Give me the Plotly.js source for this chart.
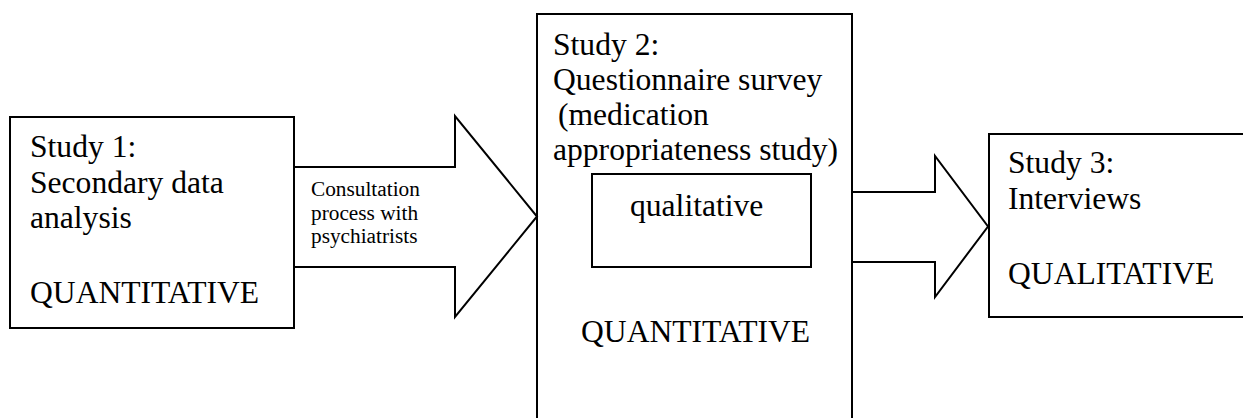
<!DOCTYPE html>
<html>
<head>
<meta charset="utf-8">
<script src="https://cdn.plot.ly/plotly-3.0.1.min.js"></script>
<style>
html,body{margin:0;padding:0;background:#fff;}
#chart{width:1243px;height:418px;}
</style>
</head>
<body>
<div id="chart"></div>
<script>
// ---- content (text) ----
const studyTitles = ["Study 1:", "Study 2:", "Study 3:"];
const studyDescriptions = [
  ["Secondary data", "analysis"],
  ["Questionnaire survey", "(medication", "appropriateness study)"],
  ["Interviews"]
];
const studyMethods = ["QUANTITATIVE", "QUANTITATIVE", "QUALITATIVE"];
const embeddedComponent = ["qualitative"];
const linkLabels = [["Consultation", "process with", "psychiatrists"], []];

// ---- layout geometry (diagram coordinates, in a 1243 x 418 frame) ----
const geo = {
  boxes: [
    {x0: 10, y0: 117, x1: 294, y1: 328},
    {x0: 537, y0: 14, x1: 852, y1: 440},
    {x0: 989, y0: 134, x1: 1260, y1: 317}
  ],
  inner: {x0: 592, y0: 174, x1: 811, y1: 267},
  arrows: [
    {xs: 294, xh: 455, xt: 537, sy0: 167, sy1: 267, hy0: 116, hy1: 317},
    {xs: 852, xh: 935, xt: 988, sy0: 192, sy1: 262, hy0: 156, hy1: 297}
  ],
  textX: [30, 553, 1008],
  titleY: [146.5, 44, 162],
  descY: [[182, 217.5], [79, 114, 149], [198]],
  descDX: [[0, 0], [0, 5, 0], [0]],
  methodX: [30, 581, 1008],
  methodY: [292.5, 331, 273],
  innerText: {x: 696, y: 205},
  linkText: {x: 311, ys: [189, 212.5, 236]}
};

const bigFont = {family: "Liberation Serif", size: 31.6, color: "#000"};
const smallFont = {family: "Liberation Serif", size: 21.3, color: "#000"};
const lineStyle = {color: "#000", width: 2};

const shapes = [];
geo.boxes.forEach(b => shapes.push({type: "rect", xref: "x", yref: "y", x0: b.x0, x1: b.x1, y0: b.y0, y1: b.y1, line: lineStyle, fillcolor: "rgba(0,0,0,0)"}));
shapes.push({type: "rect", xref: "x", yref: "y", x0: geo.inner.x0, x1: geo.inner.x1, y0: geo.inner.y0, y1: geo.inner.y1, line: lineStyle});
geo.arrows.forEach(a => {
  const mid = (a.hy0 + a.hy1) / 2;
  shapes.push({type: "path", xref: "x", yref: "y", line: lineStyle,
    path: `M ${a.xs},${a.sy0} L ${a.xh},${a.sy0} L ${a.xh},${a.hy0} L ${a.xt},${mid} L ${a.xh},${a.hy1} L ${a.xh},${a.sy1} L ${a.xs},${a.sy1}`});
});

const annotations = [];
function addText(text, x, y, font, anchor) {
  annotations.push({text: text, x: x, y: y, xref: "x", yref: "y", xanchor: anchor || "left", yanchor: "middle",
    showarrow: false, font: font, borderpad: 0, borderwidth: 0});
}
studyTitles.forEach((t, i) => {
  addText(t, geo.textX[i], geo.titleY[i], bigFont);
  studyDescriptions[i].forEach((d, j) => addText(d, geo.textX[i] + geo.descDX[i][j], geo.descY[i][j], bigFont));
  addText(studyMethods[i], geo.methodX[i], geo.methodY[i], bigFont);
});
embeddedComponent.forEach(t => addText(t, geo.innerText.x, geo.innerText.y, bigFont, "center"));
linkLabels[0].forEach((t, j) => addText(t, geo.linkText.x, geo.linkText.ys[j], smallFont));

const layout = {
  width: 1243, height: 418,
  margin: {l: 0, r: 0, t: 0, b: 0, pad: 0},
  paper_bgcolor: "#fff", plot_bgcolor: "#fff",
  showlegend: false,
  xaxis: {range: [0, 1243], visible: false, fixedrange: true},
  yaxis: {range: [418, 0], visible: false, fixedrange: true},
  shapes: shapes,
  annotations: annotations
};

Plotly.newPlot("chart", [{x: [], y: [], type: "scatter", mode: "markers"}], layout, {staticPlot: true, displayModeBar: false});
</script>
</body>
</html>
